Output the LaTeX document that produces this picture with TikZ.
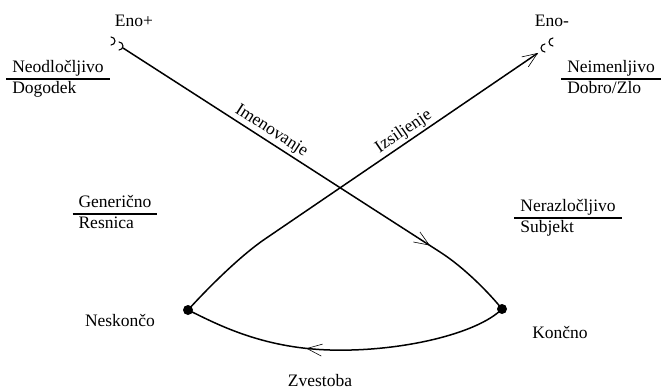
\documentclass[tikz,border=0pt]{standalone}
\usepackage{fontspec}
\setmainfont{Liberation Serif}
\newfontfamily\pisava{Liberation Serif}
\usetikzlibrary{arrows.meta,decorations.markings}

\setlength{\arrayrulewidth}{1.6pt}
\renewcommand{\arraystretch}{0.95}
\newcommand{\razlom}[2]{\begin{tabular}{l}#1\\\hline #2\end{tabular}}

\begin{document}
\begin{tikzpicture}[line cap=round, line join=round, x=1pt, y=-1pt,
		besedilo/.style={font=\pisava\fontsize{17.5}{20}\selectfont, inner sep=0pt},
		pika/.style={circle, fill=black, inner sep=0pt, minimum size=10pt},
		crta/.style={line width=1.5pt},
		kljuka/.style={line width=1.1pt},
		puscica/.style={postaction={decorate}, decoration={markings, mark=at position #1 with {\arrow{Straight Barb[length=15pt, width=12pt, line width=0.6pt]}}}}]
		
		\useasboundingbox (0,0) rectangle (661,390);
		
		% Tocke
		\coordinate (enoP) at (123,48);
		\coordinate (enoM) at (538,53);
		\node[pika] (neskoncno) at (188,310) {};
		\node[pika] (koncno) at (502,309) {};
		
		% Imenovanje
		\draw[crta, puscica=365pt] (enoP) -- (440,252) node[pos=0.45, sloped, above=2pt, besedilo] (imen) {Imenovanje} .. controls (465,268) and (490,294) .. (koncno.center);
		
		% Izsiljenje
		\draw[crta, -{Straight Barb[length=15pt, width=12pt, line width=0.6pt]}] (neskoncno.center) .. controls (208,288) and (240,256) .. (265,239) -- (enoM) node[pos=0.53, sloped, above=2pt, besedilo] (izsil) {Izsiljenje};
		
		% Zvestoba
		\draw[crta, puscica=0.62] (koncno.center) .. controls (477,334) and (400,352) .. (330,350) .. controls (260,348) and (215,323) .. (neskoncno.center);
		
		% Kljuke
		\draw[kljuka] (111,37) arc[start angle=90, end angle=-90, radius=4pt];
		\draw[kljuka] (119,42) arc[start angle=90, end angle=-90, radius=4pt];
		\draw[kljuka] (545,44) arc[start angle=90, end angle=270, radius=4pt];
		\draw[kljuka] (553,38) arc[start angle=90, end angle=270, radius=4pt];
		
		% Oznake
		\node[besedilo] (enoPlus) at (134,21) {Eno+};
		\node[besedilo] (enoMinus) at (552,21) {Eno-};
		\node[besedilo] (neskL) at (120,320) {Neskončo};
		\node[besedilo] (koncL) at (560,332) {Končno};
		\node[besedilo] (zvest) at (320,381) {Zvestoba};
		
		% Ulomki
		\foreach \ime/\px/\py/\zg/\sp in {dogodek/58/79/Neodločljivo/Dogodek, dobro/611/79/Neimenljivo/{Dobro/Zlo}, resnica/115/214/Generično/Resnica, subjekt/568/218/Nerazločljivo/Subjekt}
		\node[besedilo] (\ime) at (\px,\py) {\razlom{\zg}{\sp}};
		
	\end{tikzpicture}
\end{document}
